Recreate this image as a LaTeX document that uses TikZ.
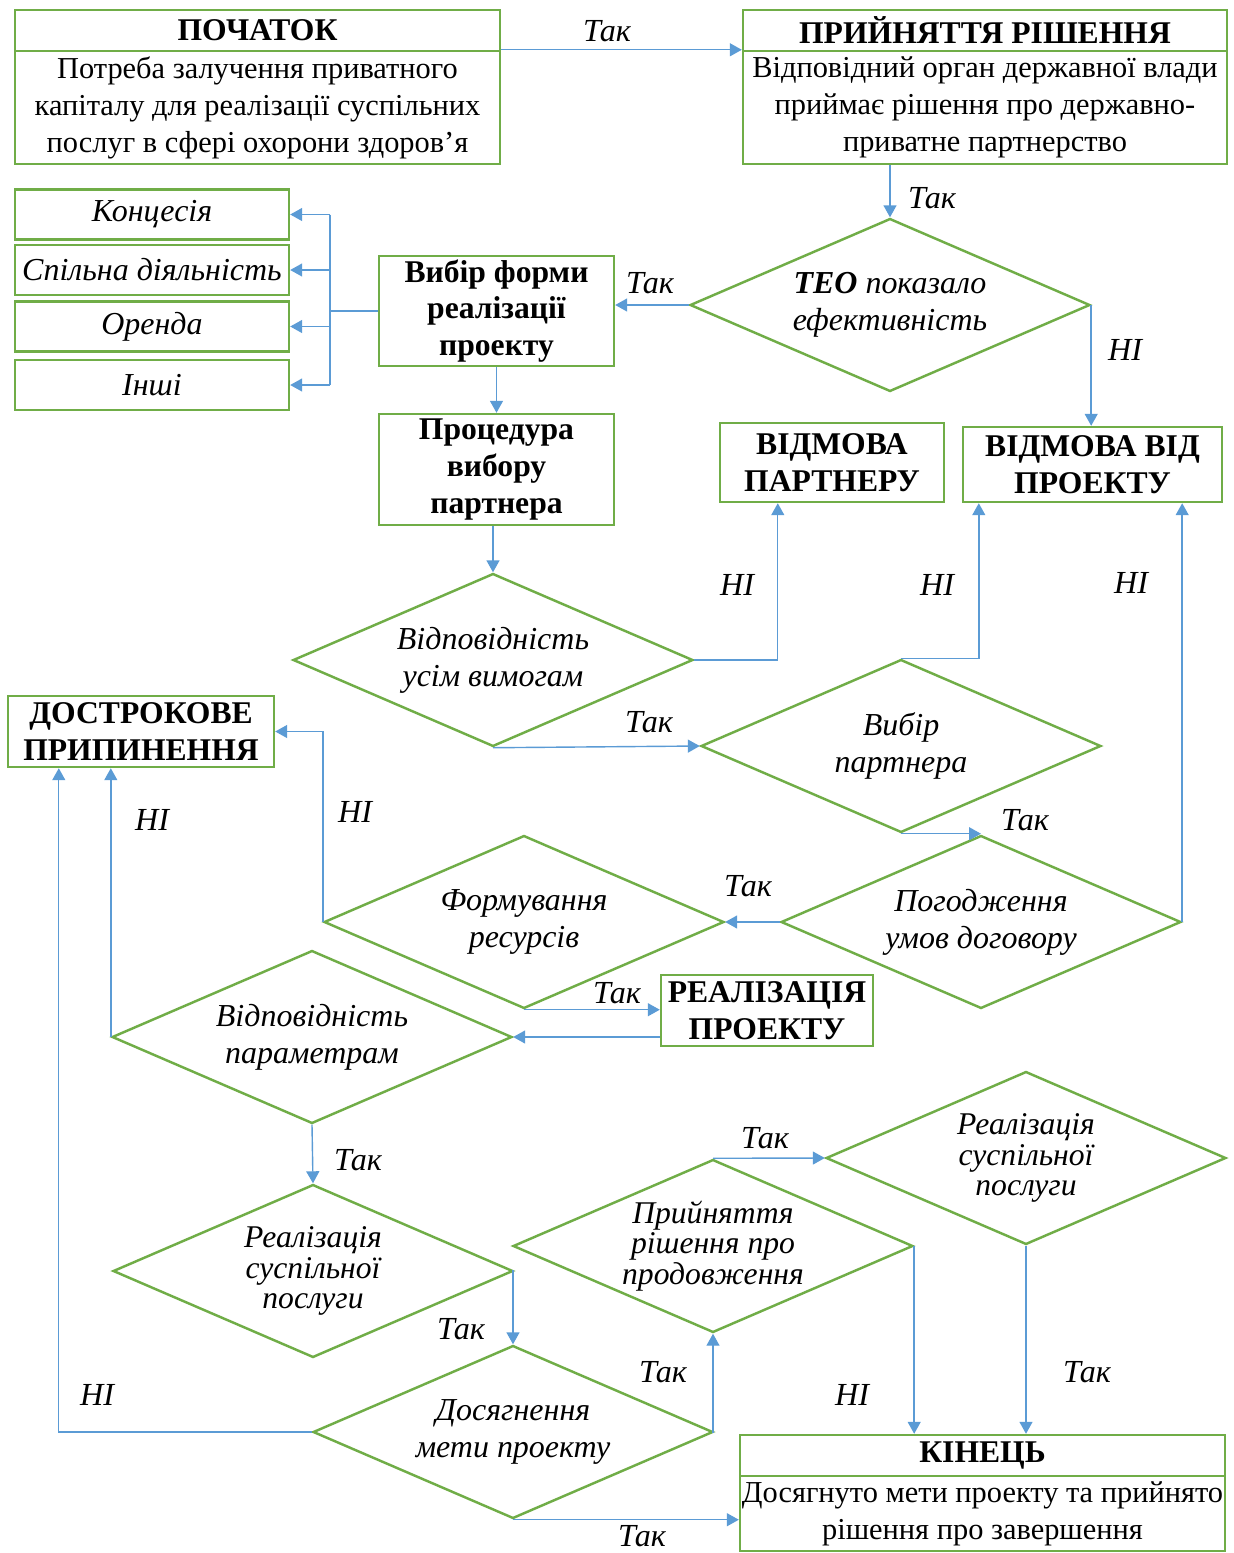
\documentclass[tikz,border=0pt]{standalone}
\usepackage{fontspec}
\setmainfont{Liberation Serif}
\usetikzlibrary{arrows.meta,shapes.geometric}
\definecolor{boxgreen}{HTML}{70AD47}
\definecolor{flowblue}{HTML}{5B9BD5}

\begin{document}
\begin{tikzpicture}[
    x=0.02cm, y=-0.02cm,
    font=\fontsize{17.3}{21}\selectfont,
    box/.style={draw=boxgreen, fill=white, line width=1.4pt, align=center,
                inner sep=0pt},
    head/.style={box, font=\fontsize{18}{21}\selectfont\bfseries},
    choice/.style={box, minimum width=5.48cm, minimum height=1cm,
                font=\fontsize{18.2}{21}\selectfont\itshape},
    cond/.style={diamond, draw=boxgreen, fill=white, line width=1.4pt,
                aspect=2.31, inner sep=0pt, minimum width=8cm,
                minimum height=3.46cm, align=center,
                font=\fontsize{18.2}{21}\selectfont\itshape},
    tight/.style={font=\fontsize{18}{17.5}\selectfont\itshape},
    arrow/.style={-{Triangle[length=2.4mm,width=2.6mm]}, line width=0.8pt,
                draw=flowblue},
    link/.style={line width=0.8pt, draw=flowblue},
    lbl/.style={font=\fontsize{18.3}{21}\selectfont\itshape}
]
  \useasboundingbox (0,0) rectangle (1234,1553);

  \node[head, minimum width=9.7cm, minimum height=0.82cm] (starttitle) at (257.5,30.5) {ПОЧАТОК};
  \node[box, minimum width=9.7cm, minimum height=2.26cm] (start) at (257.5,107.5)
       {Потреба залучення приватного\\капіталу для реалізації суспільних\\послуг в сфері охорони здоров’я};
  \node[head, minimum width=9.68cm, minimum height=0.82cm] (dectitle) at (985,30.5) {ПРИЙНЯТТЯ РІШЕННЯ};
  \node[box, minimum width=9.68cm, minimum height=2.26cm] (decision) at (985,107.5)
       {Відповідний орган державної влади\\приймає рішення про державно-\\приватне партнерство};

  \node[choice] (conc) at (152,214.5) {Концесія};
  \node[choice] (joint) at (152,270) {Спільна діяльність};
  \node[choice] (lease) at (152,326.5) {Оренда};
  \node[choice] (other) at (152,385) {Інші};

  \node[head, minimum width=4.7cm, minimum height=2.2cm] (form) at (496.5,311) {Вибір форми\\реалізації\\проекту};
  \node[head, minimum width=4.7cm, minimum height=2.22cm] (proc) at (496.5,469.5) {Процедура\\вибору\\партнера};
  \node[head, minimum width=4.48cm, minimum height=1.58cm] (refpart) at (832,462.5) {ВІДМОВА\\ПАРТНЕРУ};
  \node[head, minimum width=5.18cm, minimum height=1.5cm] (refproj) at (1092.5,464.5) {ВІДМОВА ВІД\\ПРОЕКТУ};
  \node[head, minimum width=5.32cm, minimum height=1.42cm] (early) at (141,731.5) {ДОСТРОКОВЕ\\ПРИПИНЕННЯ};
  \node[head, minimum width=4.24cm, minimum height=1.42cm] (impl) at (767,1010.5) {РЕАЛІЗАЦІЯ\\ПРОЕКТУ};
  \node[head, minimum width=9.7cm, minimum height=0.82cm] (endtitle) at (982.5,1455.5) {КІНЕЦЬ};
  \node[box, minimum width=9.7cm, minimum height=1.5cm] (finish) at (982.5,1513.5)
       {Досягнуто мети проекту та прийнято\\рішення про завершення};

  \node[cond] (teo) at (890,305) {\textbf{ТЕО} показало\\ефективність};
  \node[cond] (reqs) at (493,660) {Відповідність\\усім вимогам};
  \node[cond] (pick) at (901,746) {Вибір\\партнера};
  \node[cond] (terms) at (981,922) {Погодження\\умов договору};
  \node[cond] (res) at (524,922) {Формування\\ресурсів};
  \node[cond] (params) at (312,1037) {Відповідність\\параметрам};
  \node[cond, tight] (svcL) at (313,1271) {Реалізація\\суспільної\\послуги};
  \node[cond] (goal) at (513,1432) {Досягнення\\мети проекту};
  \node[cond, tight] (cont) at (713,1246) {Прийняття\\рішення про\\продовження};
  \node[cond, tight] (svcR) at (1026,1158) {Реалізація\\суспільної\\послуги};

  \coordinate (bus) at (330,311);

  \draw[arrow] (start.north east) -- (decision.north west);
  \draw[arrow] (teo.north |- decision.south) -- (teo.north);
  \draw[arrow] (teo.west) -- (teo.west -| form.east);
  \draw[arrow] (teo.east) -- (teo.east |- refproj.north);
  \draw[link] (form.west) -- (bus);
  \draw[link] (bus |- conc.east) -- (bus |- other.east);
  \foreach \opt in {conc,joint,lease,other}
    \draw[arrow] (bus |- \opt.east) -- (\opt.east);
  \draw[arrow] (form.south) -- (proc.north);
  \draw[arrow] (reqs.north |- proc.south) -- (reqs.north);
  \draw[arrow] (reqs.east) -| ([xshift=1.18cm]refpart.south west);
  \draw[arrow] (reqs.south) -- (pick.west);
  \draw[arrow] (pick.north) -| ([xshift=0.34cm]refproj.south west);
  \draw[arrow] (pick.south) -- (pick.south -| terms.north);
  \draw[arrow] (terms.east) -- (terms.east |- refproj.south);
  \draw[arrow] (terms.west) -- (res.east);
  \draw[arrow] (res.west) |- (early.east);
  \draw[arrow] (res.south) -- (res.south -| impl.west);
  \draw[arrow] (impl.west |- params.east) -- (params.east);
  \draw[arrow] (params.west) -- (params.west |- early.south);
  \draw[arrow] (params.south) -- (svcL.north);
  \draw[arrow] (svcL.east) -| (goal.north);
  \draw[arrow] (goal.west) -| ([xshift=1.04cm]early.south west);
  \draw[arrow] (goal.east) -| (cont.south);
  \draw[arrow] (goal.south) -- (goal.south -| finish.west);
  \draw[arrow] (cont.north) -- (svcR.west);
  \draw[arrow] (cont.east) -- (cont.east |- endtitle.north);
  \draw[arrow] (svcR.south) -- (svcR.south |- endtitle.north);

  \node[lbl] (yes1) at (607,31) {Так};
  \node[lbl] (yes2) at (932,198) {Так};
  \node[lbl] (yes3) at (650,283) {Так};
  \node[lbl] (no1) at (1125,350) {НІ};
  \node[lbl] (no2) at (737,585) {НІ};
  \node[lbl] (yes4) at (649,722) {Так};
  \node[lbl] (no3) at (937,585) {НІ};
  \node[lbl] (yes5) at (1025,820) {Так};
  \node[lbl] (no4) at (1131,583) {НІ};
  \node[lbl] (yes6) at (748,886) {Так};
  \node[lbl] (no5) at (355,812) {НІ};
  \node[lbl] (yes7) at (617,993) {Так};
  \node[lbl] (no6) at (152,820) {НІ};
  \node[lbl] (yes8) at (358,1160) {Так};
  \node[lbl] (yes9) at (461,1329) {Так};
  \node[lbl] (no7) at (97,1395) {НІ};
  \node[lbl] (yes10) at (663,1372) {Так};
  \node[lbl] (yes11) at (642,1536) {Так};
  \node[lbl] (yes12) at (765,1138) {Так};
  \node[lbl] (no8) at (852,1395) {НІ};
  \node[lbl] (yes13) at (1087,1372) {Так};
\end{tikzpicture}
\end{document}
